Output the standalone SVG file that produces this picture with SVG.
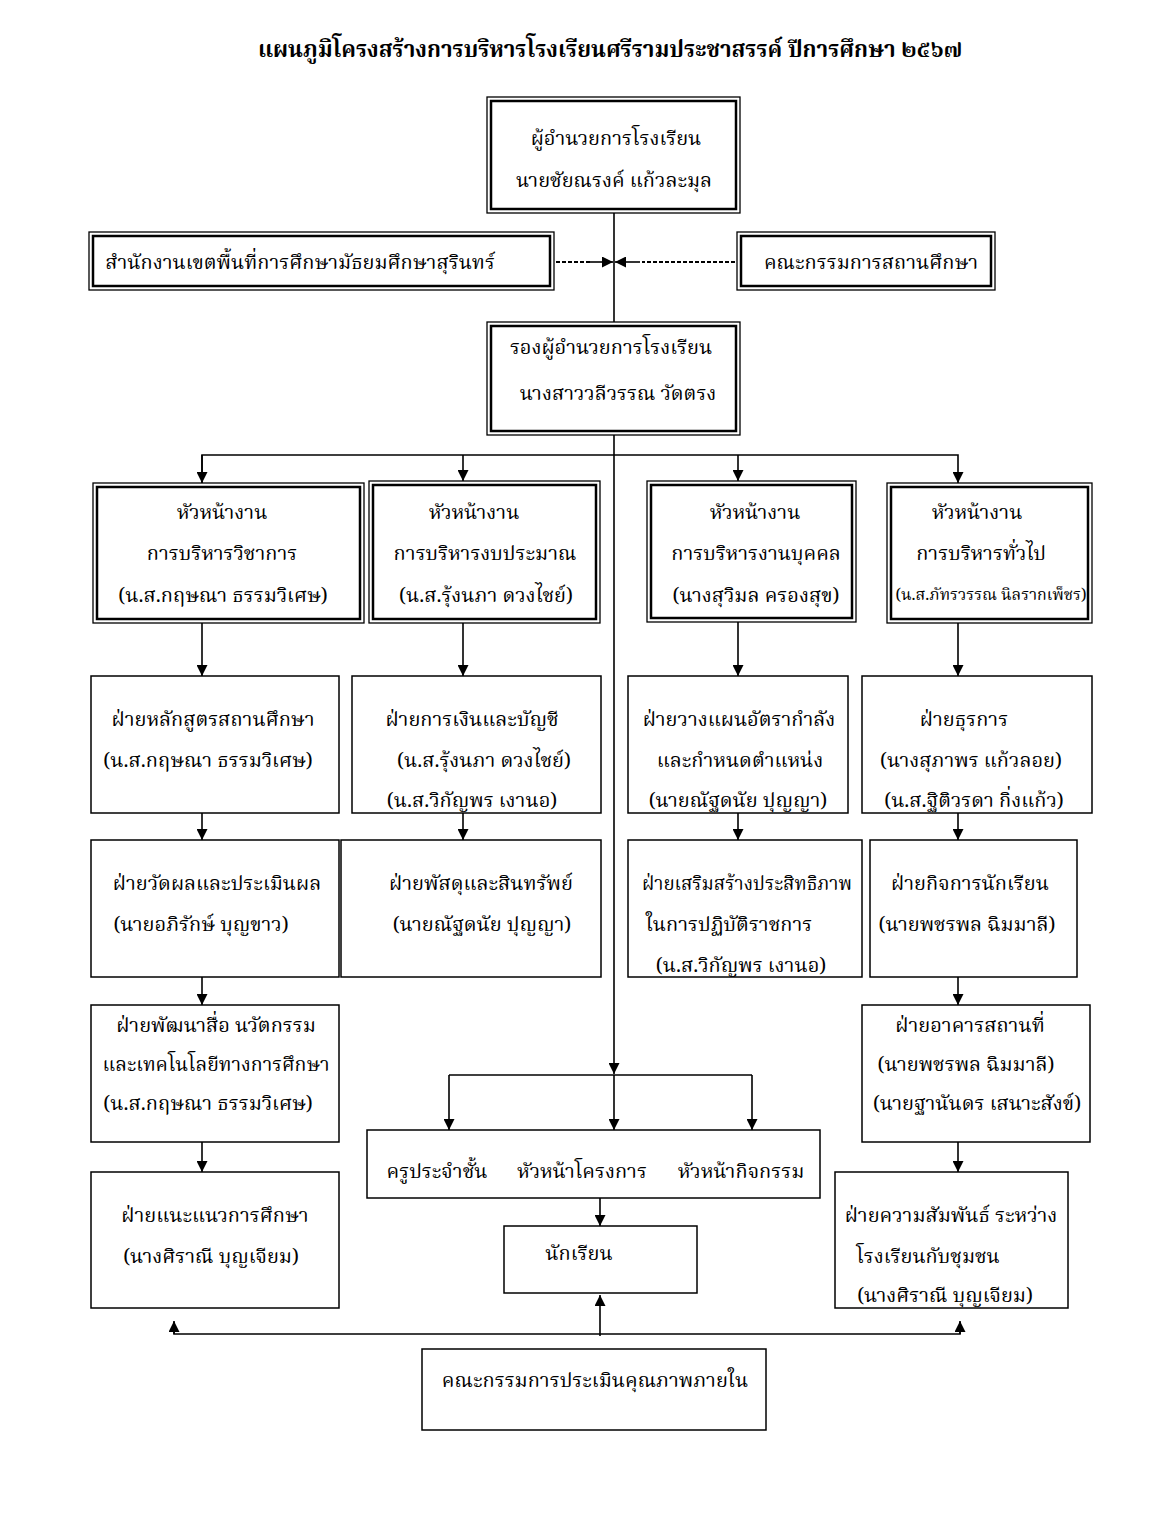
<svg xmlns="http://www.w3.org/2000/svg" width="1170" height="1514" viewBox="0 0 1170 1514">
<defs>
<marker id="ah" viewBox="0 0 10 10" refX="10" refY="5" markerWidth="11" markerHeight="11" markerUnits="userSpaceOnUse" orient="auto"><path d="M0,0 L10,5 L0,10 z" fill="#000"/></marker>
<style>
text{font-family:"Noto Serif Thai","Noto Sans Thai","Loma","Garuda","Norasi","DejaVu Sans",serif;font-size:20px;fill:#000;text-anchor:middle}
.t{font-size:22.2px;font-weight:bold}
.o{fill:#fff;stroke:#000;stroke-width:1.3}
.i{fill:none;stroke:#000;stroke-width:2.5}
.b{fill:#fff;stroke:#000;stroke-width:1.5}
.c{fill:none;stroke:#000;stroke-width:1.6}
.d{fill:none;stroke:#000;stroke-width:1.8;stroke-dasharray:4,2}
</style>
</defs>
<rect width="1170" height="1514" fill="#fff"/>
<text class="t" x="610" y="57">แผนภูมิโครงสร้างการบริหารโรงเรียนศรีรามประชาสรรค์ ปีการศึกษา ๒๕๖๗</text>

<g id="connectors">
<line class="c" x1="614" y1="213" x2="614" y2="322"/>
<line class="c" x1="614" y1="435" x2="614" y2="1074" marker-end="url(#ah)"/>
<line class="d" x1="556" y1="262" x2="592" y2="262"/>
<line class="c" x1="588" y1="262" x2="613" y2="262" marker-end="url(#ah)"/>
<line class="d" x1="735" y1="262" x2="642" y2="262"/>
<line class="c" x1="640" y1="262" x2="615" y2="262" marker-end="url(#ah)"/>
<polyline class="c" points="202,483 202,455 958,455 958,483" marker-end="url(#ah)"/>
<line class="c" x1="202" y1="455" x2="202" y2="483" marker-end="url(#ah)"/>
<line class="c" x1="463" y1="455" x2="463" y2="481" marker-end="url(#ah)"/>
<line class="c" x1="738" y1="455" x2="738" y2="481" marker-end="url(#ah)"/>
<line class="c" x1="202" y1="623" x2="202" y2="676" marker-end="url(#ah)"/>
<line class="c" x1="463" y1="623" x2="463" y2="676" marker-end="url(#ah)"/>
<line class="c" x1="738" y1="622" x2="738" y2="676" marker-end="url(#ah)"/>
<line class="c" x1="958" y1="623" x2="958" y2="676" marker-end="url(#ah)"/>
<line class="c" x1="202" y1="813" x2="202" y2="840" marker-end="url(#ah)"/>
<line class="c" x1="463" y1="813" x2="463" y2="840" marker-end="url(#ah)"/>
<line class="c" x1="738" y1="813" x2="738" y2="840" marker-end="url(#ah)"/>
<line class="c" x1="958" y1="813" x2="958" y2="840" marker-end="url(#ah)"/>
<line class="c" x1="202" y1="977" x2="202" y2="1005" marker-end="url(#ah)"/>
<line class="c" x1="958" y1="977" x2="958" y2="1005" marker-end="url(#ah)"/>
<line class="c" x1="202" y1="1142" x2="202" y2="1172" marker-end="url(#ah)"/>
<line class="c" x1="958" y1="1142" x2="958" y2="1172" marker-end="url(#ah)"/>
<line class="c" x1="449" y1="1075" x2="752" y2="1075"/>
<line class="c" x1="449" y1="1075" x2="449" y2="1130" marker-end="url(#ah)"/>
<line class="c" x1="614" y1="1075" x2="614" y2="1130" marker-end="url(#ah)"/>
<line class="c" x1="752" y1="1075" x2="752" y2="1130" marker-end="url(#ah)"/>
<line class="c" x1="600" y1="1198" x2="600" y2="1226" marker-end="url(#ah)"/>
<line class="c" x1="600" y1="1336" x2="600" y2="1295" marker-end="url(#ah)"/>
<polyline class="c" points="174,1322 174,1334 960,1334 960,1322"/>
<line class="c" x1="174" y1="1334" x2="174" y2="1321" marker-end="url(#ah)"/>
<line class="c" x1="960" y1="1334" x2="960" y2="1321" marker-end="url(#ah)"/>
</g>

<g id="director">
<rect class="o" x="487" y="97" width="253" height="116"/>
<rect class="i" x="491" y="101" width="245" height="108"/>
<text x="616" y="145">ผู้อำนวยการโรงเรียน</text>
<text x="614" y="187">นายชัยณรงค์ แก้วละมุล</text>
</g>
<g id="area-office">
<rect class="o" x="89" y="232" width="465" height="58"/>
<rect class="i" x="93" y="236" width="457" height="50"/>
<text x="300" y="269">สำนักงานเขตพื้นที่การศึกษามัธยมศึกษาสุรินทร์</text>
</g>
<g id="school-board">
<rect class="o" x="737" y="232" width="258" height="58"/>
<rect class="i" x="741" y="236" width="250" height="50"/>
<text x="871" y="269">คณะกรรมการสถานศึกษา</text>
</g>
<g id="deputy">
<rect class="o" x="487" y="322" width="253" height="113"/>
<rect class="i" x="491" y="326" width="245" height="105"/>
<text x="611" y="354">รองผู้อำนวยการโรงเรียน</text>
<text x="618" y="400">นางสาววลีวรรณ วัดตรง</text>
</g>

<g id="head-academic">
<rect class="o" x="93" y="483" width="271" height="140"/>
<rect class="i" x="97" y="487" width="263" height="132"/>
<text x="222" y="519">หัวหน้างาน</text>
<text x="222" y="560">การบริหารวิชาการ</text>
<text x="223" y="602">(น.ส.กฤษณา ธรรมวิเศษ)</text>
</g>
<g id="head-budget">
<rect class="o" x="369" y="481" width="231" height="142"/>
<rect class="i" x="373" y="485" width="223" height="134"/>
<text x="474" y="519">หัวหน้างาน</text>
<text x="485" y="560">การบริหารงบประมาณ</text>
<text x="486" y="602">(น.ส.รุ้งนภา ดวงไชย์)</text>
</g>
<g id="head-personnel">
<rect class="o" x="647" y="481" width="209" height="141"/>
<rect class="i" x="651" y="485" width="201" height="133"/>
<text x="755" y="519">หัวหน้างาน</text>
<text x="756" y="560">การบริหารงานบุคคล</text>
<text x="756" y="602">(นางสุวิมล ครองสุข)</text>
</g>
<g id="head-general">
<rect class="o" x="887" y="483" width="205" height="140"/>
<rect class="i" x="891" y="487" width="197" height="132"/>
<text x="977" y="519">หัวหน้างาน</text>
<text x="981" y="560">การบริหารทั่วไป</text>
<text x="991" y="600" style="font-size:16px">(น.ส.ภัทรวรรณ นิลรากเพ็ชร)</text>
</g>

<g id="curriculum">
<rect class="b" x="91" y="676" width="248" height="137"/>
<text x="213" y="726">ฝ่ายหลักสูตรสถานศึกษา</text>
<text x="208" y="767">(น.ส.กฤษณา ธรรมวิเศษ)</text>
</g>
<g id="finance">
<rect class="b" x="352" y="676" width="249" height="137"/>
<text x="472" y="726">ฝ่ายการเงินและบัญชี</text>
<text x="484" y="767">(น.ส.รุ้งนภา ดวงไชย์)</text>
<text x="472" y="807">(น.ส.วิกัญพร เงานอ)</text>
</g>
<g id="manpower">
<rect class="b" x="628" y="676" width="220" height="137"/>
<text x="739" y="726">ฝ่ายวางแผนอัตรากำลัง</text>
<text x="740" y="767">และกำหนดตำแหน่ง</text>
<text x="738" y="807">(นายณัฐดนัย ปุญญา)</text>
</g>
<g id="admin">
<rect class="b" x="862" y="676" width="230" height="137"/>
<text x="964" y="726">ฝ่ายธุรการ</text>
<text x="971" y="767">(นางสุภาพร แก้วลอย)</text>
<text x="974" y="807">(น.ส.ฐิติวรดา กิ่งแก้ว)</text>
</g>

<g id="evaluation">
<rect class="b" x="91" y="840" width="248" height="137"/>
<text x="217" y="890">ฝ่ายวัดผลและประเมินผล</text>
<text x="201" y="931">(นายอภิรักษ์ บุญขาว)</text>
</g>
<g id="supplies">
<rect class="b" x="341" y="840" width="260" height="137"/>
<text x="481" y="890">ฝ่ายพัสดุและสินทรัพย์</text>
<text x="482" y="931">(นายณัฐดนัย ปุญญา)</text>
</g>
<g id="efficiency">
<rect class="b" x="628" y="840" width="234" height="137"/>
<text x="747" y="890" textLength="210" lengthAdjust="spacingAndGlyphs">ฝ่ายเสริมสร้างประสิทธิภาพ</text>
<text x="729" y="931">ในการปฏิบัติราชการ</text>
<text x="741" y="972">(น.ส.วิกัญพร เงานอ)</text>
</g>
<g id="student-affairs">
<rect class="b" x="870" y="840" width="207" height="137"/>
<text x="970" y="890">ฝ่ายกิจการนักเรียน</text>
<text x="967" y="931">(นายพชรพล ฉิมมาลี)</text>
</g>

<g id="media">
<rect class="b" x="91" y="1005" width="248" height="137"/>
<text x="216" y="1032">ฝ่ายพัฒนาสื่อ นวัตกรรม</text>
<text x="216" y="1071" textLength="227" lengthAdjust="spacingAndGlyphs">และเทคโนโลยีทางการศึกษา</text>
<text x="208" y="1110">(น.ส.กฤษณา ธรรมวิเศษ)</text>
</g>
<g id="buildings">
<rect class="b" x="862" y="1005" width="228" height="137"/>
<text x="970" y="1032">ฝ่ายอาคารสถานที่</text>
<text x="966" y="1071">(นายพชรพล ฉิมมาลี)</text>
<text x="977" y="1110">(นายฐานันดร เสนาะสังข์)</text>
</g>

<g id="guidance">
<rect class="b" x="91" y="1172" width="248" height="136"/>
<text x="215" y="1222">ฝ่ายแนะแนวการศึกษา</text>
<text x="211" y="1263">(นางศิราณี บุญเจียม)</text>
</g>
<g id="community">
<rect class="b" x="835" y="1172" width="233" height="136"/>
<text x="951" y="1222">ฝ่ายความสัมพันธ์ ระหว่าง</text>
<text x="928" y="1263">โรงเรียนกับชุมชน</text>
<text x="945" y="1302">(นางศิราณี บุญเจียม)</text>
</g>

<g id="teachers">
<rect class="b" x="367" y="1130" width="453" height="68"/>
<text y="1178"><tspan x="437">ครูประจำชั้น</tspan><tspan x="582">หัวหน้าโครงการ</tspan><tspan x="741">หัวหน้ากิจกรรม</tspan></text>
</g>
<g id="students">
<rect class="b" x="504" y="1226" width="193" height="67"/>
<text x="579" y="1260">นักเรียน</text>
</g>
<g id="quality">
<rect class="b" x="422" y="1349" width="344" height="81"/>
<text x="595" y="1387">คณะกรรมการประเมินคุณภาพภายใน</text>
</g>
</svg>
